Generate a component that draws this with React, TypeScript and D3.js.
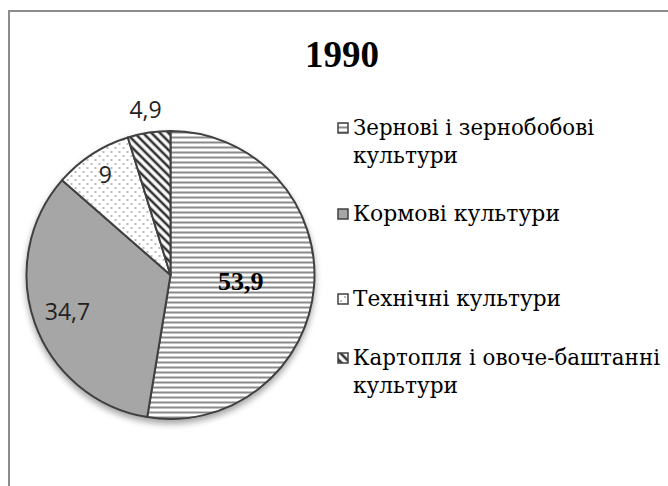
import React from 'react';
import * as d3 from 'd3';

// Data (1990 structure of sown areas, %)
const categories = [
  'Зернові і зернобобові культури',
  'Кормові культури',
  'Технічні культури',
  'Картопля і овоче-баштанні культури',
];
const values = [53.9, 34.7, 9, 4.9];
const valueLabels = ['53,9', '34,7', '9', '4,9'];
const legendLines = [
  ['Зернові і зернобобові', 'культури'],
  ['Кормові культури'],
  ['Технічні культури'],
  ['Картопля і овоче-баштанні', 'культури'],
];
const patternIds = ['pHoriz', 'pSolid', 'pDots', 'pDiag'];
// where Excel put each label, as a fraction of the radius
const labelRadius = [0.49, 0.76, 0.83, 1.16];
// measured widths of the legend lines (the original uses a narrow Times face)
const legendWidths = [[241, 105], [207], [208], [307, 105]];

const W = 668;
const H = 486;
const cx = 170.5;
const cy = 275;
const R = 144;
const legendX = 338;
const legendBaselines = [135, 221, 306, 365];
const lineGap = 28;
const serif = "'Liberation Serif', 'Times New Roman', serif";
const cyrSerif = "'DejaVu Serif', 'Liberation Serif', serif";

const App: React.FC = () => {
  const pie = d3
    .pie<number>()
    .sort(null)
    .value(d => d)
    .startAngle(0)
    .endAngle(Math.PI * 2);
  const arcs = pie(values);
  const arc = d3.arc<d3.PieArcDatum<number>>().innerRadius(0).outerRadius(R);

  const labelPos = (a: d3.PieArcDatum<number>, i: number) => {
    const r = R * labelRadius[i];
    return d3.arc<d3.PieArcDatum<number>>().innerRadius(r).outerRadius(r).centroid(a);
  };

  return (
    <svg
      width={W}
      height={H}
      style={{ position: 'absolute', left: 0, top: 0, background: '#fff' }}
    >
      <defs>
        <pattern id="pHoriz" patternUnits="userSpaceOnUse" width={8} height={5}>
          <rect width={8} height={5} fill="#fff" />
          <line x1={0} x2={8} y1={2.5} y2={2.5} stroke="#8a8a8a" strokeWidth={2} />
        </pattern>
        <pattern id="pSolid" patternUnits="userSpaceOnUse" width={8} height={8}>
          <rect width={8} height={8} fill="#a6a6a6" />
        </pattern>
        <pattern id="pDots" patternUnits="userSpaceOnUse" width={8} height={8}>
          <rect width={8} height={8} fill="#fff" />
          <circle cx={1} cy={1} r={0.7} fill="#444" />
          <circle cx={5} cy={5} r={0.7} fill="#444" />
        </pattern>
        <pattern
          id="pDiag"
          patternUnits="userSpaceOnUse"
          width={6}
          height={6}
          patternTransform="rotate(-45)"
        >
          <rect width={6} height={6} fill="#fff" />
          <line x1={3} x2={3} y1={0} y2={6} stroke="#333" strokeWidth={2.6} />
        </pattern>
        <filter id="shadow" x="-20%" y="-20%" width="140%" height="140%">
          <feDropShadow dx={0} dy={4} stdDeviation={3} floodColor="#000" floodOpacity={0.35} />
        </filter>
      </defs>

      {/* chart frame, cut off at right and bottom */}
      <rect x={9} y={11} width={W} height={H} fill="none" stroke="#8c8c8c" strokeWidth={2} />

      <text
        x={342}
        y={67}
        textAnchor="middle"
        fontFamily={serif}
        fontWeight="bold"
        fontSize={37}
        fill="#000"
      >
        1990
      </text>

      <g transform={`translate(${cx},${cy})`}>
        <g filter="url(#shadow)">
          {arcs.map((a, i) => (
            <path
              key={categories[i]}
              d={arc(a) || ''}
              fill={`url(#${patternIds[i]})`}
              stroke="#404040"
              strokeWidth={2}
              strokeLinejoin="round"
            />
          ))}
        </g>
        {arcs.map((a, i) => {
          const [x, y] = labelPos(a, i);
          const first = i === 0;
          return (
            <text
              key={'l' + i}
              x={x}
              y={y}
              dy="0.36em"
              textAnchor="middle"
              fontFamily={first ? serif : "'Open Sans', sans-serif"}
              fontWeight={first ? 'bold' : 'normal'}
              fontSize={first ? 26 : 23}
              fill={first ? '#000' : '#222'}
            >
              {valueLabels[i]}
            </text>
          );
        })}
      </g>

      <g fontFamily={cyrSerif} fontSize={22} fill="#000">
        {legendLines.map((lines, i) => (
          <g key={categories[i]}>
            <rect
              x={legendX}
              y={legendBaselines[i] - 12}
              width={10}
              height={10}
              fill={`url(#${patternIds[i]})`}
              stroke="#404040"
              strokeWidth={1.5}
            />
            {lines.map((ln, j) => (
              <text
                key={j}
                x={legendX + 15}
                y={legendBaselines[i] + j * lineGap}
                textLength={legendWidths[i][j]}
                lengthAdjust="spacingAndGlyphs"
              >
                {ln}
              </text>
            ))}
          </g>
        ))}
      </g>
    </svg>
  );
};

export default App;
